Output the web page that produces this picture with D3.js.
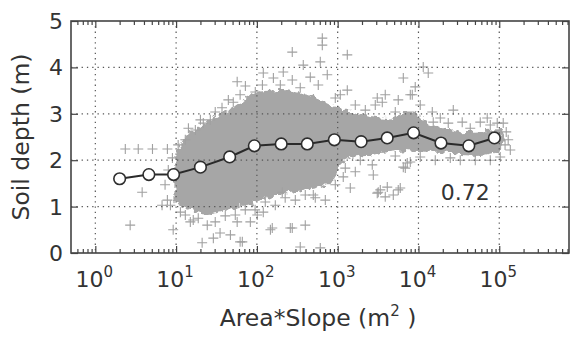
<!DOCTYPE html>
<html><head><meta charset="utf-8">
<script src="https://cdn.jsdelivr.net/npm/d3@7"></script>
<style>body{margin:0;background:#fff}svg{display:block}text{font-family:"DejaVu Sans",sans-serif;fill:#333}</style>
</head><body><svg id="c" width="570" height="338"></svg>
<script>
// ---- data ----
const xTicks = [1, 10, 100, 1000, 10000, 100000];
const xTickExp = ["0", "1", "2", "3", "4", "5"];
const yTicks = [0, 1, 2, 3, 4, 5];
// binned mean line
const meanX = [2.0, 4.6, 9.3, 20, 46, 93, 200, 420, 910, 1950, 4100, 8700, 19000, 42000, 87000];
const meanY = [1.60, 1.69, 1.69, 1.85, 2.07, 2.31, 2.35, 2.35, 2.44, 2.40, 2.48, 2.59, 2.37, 2.31, 2.48];
// dense core of the scatter cloud (envelopes)
const cloudX = [9.8, 12, 15, 20, 26, 35, 47, 62, 83, 110, 148, 200, 257, 350, 457, 620, 813, 950, 1100, 1445, 2000, 2512, 3300, 4467, 6918, 9120, 12023, 18621, 33113, 57544, 102329, 117490];
const cloudLow = [1.10, 1.00, 0.93, 0.86, 0.84, 0.88, 0.95, 1.00, 1.05, 1.12, 1.22, 1.26, 1.30, 1.33, 1.38, 1.42, 1.50, 1.70, 1.95, 2.05, 2.08, 2.10, 2.15, 2.18, 2.22, 2.20, 2.18, 2.18, 2.11, 2.09, 2.18, 2.40];
const cloudHigh = [2.20, 2.40, 2.60, 2.72, 2.85, 2.98, 3.10, 3.25, 3.40, 3.48, 3.50, 3.52, 3.50, 3.45, 3.40, 3.30, 3.20, 3.15, 3.12, 3.05, 3.00, 2.95, 2.92, 2.90, 3.05, 3.05, 2.85, 2.70, 2.60, 2.62, 2.65, 2.45];
// individual scattered points outside the dense core
const ptX = [2.35, 3.4, 5.1, 7.8, 3.8, 2.7, 9.2, 21, 8.5, 7.8, 11.3, 16.3, 24.3, 28.9, 35, 47, 62, 147, 259, 57, 83, 101, 120, 155, 274, 397, 66, 344, 609, 206, 499, 1172, 1432, 2760, 3180, 3880, 4880, 3370, 4110, 3090, 5620, 6490, 7270, 5950, 6870,
  57, 51, 37, 26.5, 21.7, 645, 645, 274, 1315, 609, 375, 212, 743, 120, 1315, 72, 3090, 3880, 3565, 458, 160, 6490, 11460, 13210, 9120, 7920, 26970, 23370, 71000, 94400, 112000, 15240, 118000, 137000,
  13.0, 17.3, 30.5, 44.3, 95.5, 195, 344, 934, 1652, 2198, 5164, 10520, 18620, 43750, 77450,
  13.0, 18.8, 40.6, 71.8, 127, 224, 397, 703, 1242, 1905, 5164, 10520, 24770, 50470, 102800,
  8.0, 7.3, 9.0, 10.6, 6.7, 14.2, 20,
  62, 117, 274, 575, 1077, 2920, 5620, 8380, 14830, 34800, 58200, 122000, 129000,
  15.0, 30.5, 54, 95, 169, 299, 528, 934, 1652, 2680, 7920, 16140, 32900, 77450];
const ptY = [2.24, 2.24, 2.24, 2.24, 1.31, 0.60, 0.50, 0.22, 1.03, 1.14, 0.88, 0.71, 0.60, 0.32, 0.43, 0.39, 0.24, 0.50, 0.54, 0.67, 0.67, 0.82, 0.88, 0.54, 0.54, 0.60, 0.24, 0.13, 0.11, 1.31, 1.25, 1.64, 1.40, 1.68, 1.31, 1.21, 1.25, 1.36, 1.42, 1.29, 1.36, 1.85, 1.94, 1.40, 1.83,
  3.69, 3.25, 3.13, 2.87, 2.80, 4.63, 4.48, 4.33, 4.27, 4.12, 4.05, 3.90, 3.84, 3.88, 3.51, 3.60, 3.34, 3.41, 3.25, 3.79, 3.77, 3.77, 4.01, 3.88, 3.58, 3.41, 3.08, 2.80, 2.91, 2.80, 2.80, 2.82, 2.33, 2.22,
  2.44, 2.65, 3.04, 3.30, 3.47, 3.62, 3.56, 3.34, 3.19, 3.08, 3.04, 3.19, 2.91, 2.69, 2.76,
  0.82, 0.75, 0.80, 0.93, 1.10, 1.19, 1.25, 1.14, 1.83, 2.00, 2.09, 2.07, 2.05, 2.00, 2.07,
  1.79, 1.47, 2.05, 2.33, 1.03, 2.69, 2.87,
  3.41, 3.62, 3.73, 3.62, 3.41, 3.19, 3.30, 3.41, 3.04, 2.82, 2.82, 2.61, 2.44,
  0.67, 0.67, 0.82, 0.93, 1.03, 1.14, 1.19, 1.47, 1.75, 1.90, 1.96, 2.00, 2.00, 2.00];
const annotation = "0.72";
const annotX = 3.8e4, annotY = 1.31;

// ---- drawing ----
const svg = d3.select("#c");
const L = 71, R = 569, T = 21, B = 253;
const x = d3.scaleLog().domain([0.5, 7.3e5]).range([L, R]);
const y = d3.scaleLinear().domain([0, 5]).range([B, T]);

const defs = svg.append("defs");
defs.append("clipPath").attr("id", "clp")
  .append("rect").attr("x", L).attr("y", T).attr("width", R - L).attr("height", B - T);
// roughen the edge of the dense cloud so it looks like overlapping markers
const f = defs.append("filter").attr("id", "rough").attr("x", "-5%").attr("y", "-10%").attr("width", "110%").attr("height", "120%");
f.append("feTurbulence").attr("type", "fractalNoise").attr("baseFrequency", 0.18).attr("numOctaves", 2).attr("seed", 3).attr("result", "n");
f.append("feDisplacementMap").attr("in", "SourceGraphic").attr("in2", "n").attr("scale", 9).attr("xChannelSelector", "R").attr("yChannelSelector", "G");
const plot = svg.append("g").attr("clip-path", "url(#clp)");

// dense cloud
const area = d3.area().x((d, i) => x(cloudX[i])).y0((d, i) => y(cloudLow[i])).y1((d, i) => y(cloudHigh[i]));
plot.append("path").datum(cloudX).attr("d", area).attr("fill", "#a6a6a6").attr("filter", "url(#rough)");

// scatter crosses
const cs = 5;
plot.append("g").selectAll("path").data(ptX).join("path")
  .attr("d", (d, i) => { const px = x(d), py = y(ptY[i]); return `M${px - cs},${py}H${px + cs}M${px},${py - cs}V${py + cs}`; })
  .attr("stroke", "#a0a0a0").attr("stroke-width", 1.1).attr("fill", "none");

// grid
const grid = svg.append("g").attr("stroke", "#555").attr("stroke-width", 1.2).attr("stroke-dasharray", "1.3,4");
grid.selectAll(".gx").data(xTicks).join("line").attr("x1", d => x(d)).attr("x2", d => x(d)).attr("y1", T).attr("y2", B);
grid.selectAll(".gy").data(yTicks.slice(1, 5)).join("line").attr("y1", d => y(d)).attr("y2", d => y(d)).attr("x1", L).attr("x2", R);

// mean line
const line = d3.line().x((d, i) => x(meanX[i])).y((d, i) => y(meanY[i]));
svg.append("path").datum(meanX).attr("d", line).attr("fill", "none").attr("stroke", "#2a2a2a").attr("stroke-width", 2);
svg.append("g").selectAll("circle").data(meanX).join("circle")
  .attr("cx", d => x(d)).attr("cy", (d, i) => y(meanY[i])).attr("r", 5.8)
  .attr("fill", "#fff").attr("stroke", "#2e2e2e").attr("stroke-width", 1.6);

// axes (ticks inward on all sides)
const minor = [];
for (let e = -1; e <= 5; e++) for (let k = 2; k <= 9; k++) { const v = k * Math.pow(10, e); if (v > 0.5 && v < 7.3e5) minor.push(v); }
const axB = d3.axisBottom(x).tickValues(xTicks).tickSize(-7).tickFormat("");
const axBm = d3.axisBottom(x).tickValues(minor).tickSize(-4).tickFormat("");
const axT = d3.axisTop(x).tickValues(xTicks).tickSize(-7).tickFormat("");
const axTm = d3.axisTop(x).tickValues(minor).tickSize(-4).tickFormat("");
const axL = d3.axisLeft(y).tickValues(yTicks).tickSize(-7).tickFormat("");
const axR = d3.axisRight(y).tickValues(yTicks).tickSize(-7).tickFormat("");
[[axB, `translate(0,${B})`], [axBm, `translate(0,${B})`], [axT, `translate(0,${T})`], [axTm, `translate(0,${T})`], [axL, `translate(${L},0)`], [axR, `translate(${R},0)`]]
  .forEach(([a, t]) => {
    const g = svg.append("g").attr("transform", t).call(a);
    g.select(".domain").remove();
    g.selectAll("line").attr("stroke", "#444").attr("stroke-width", 1.2);
  });
svg.append("rect").attr("x", L).attr("y", T).attr("width", R - L).attr("height", B - T)
  .attr("fill", "none").attr("stroke", "#444").attr("stroke-width", 1.6);

// tick labels
svg.append("g").selectAll("text").data(yTicks).join("text")
  .attr("x", L - 8).attr("y", d => y(d)).attr("dy", "0.36em").attr("text-anchor", "end")
  .attr("font-size", 22).text(d => d);
const xl = svg.append("g").selectAll("text").data(xTicks).join("text")
  .attr("x", d => x(d) - 1).attr("y", 287).attr("text-anchor", "middle").attr("font-size", 22);
xl.append("tspan").text("10");
xl.append("tspan").attr("font-size", 15).attr("dy", -10).text((d, i) => xTickExp[i]);

// axis titles
svg.append("text").attr("transform", `translate(29,137) rotate(-90)`).attr("text-anchor", "middle")
  .attr("font-size", 23.5).text("Soil depth (m)");
const xt = svg.append("text").attr("x", 318).attr("y", 326).attr("text-anchor", "middle").attr("font-size", 23.5);
xt.append("tspan").text("Area*Slope (m");
xt.append("tspan").attr("font-size", 15).attr("dy", -10).text("2");
xt.append("tspan").attr("dy", 10).text(" )");

// annotation
svg.append("text").attr("x", x(annotX)).attr("y", y(annotY)).attr("dy", "0.36em").attr("text-anchor", "middle")
  .attr("font-size", 22).text(annotation);
</script></body></html>
